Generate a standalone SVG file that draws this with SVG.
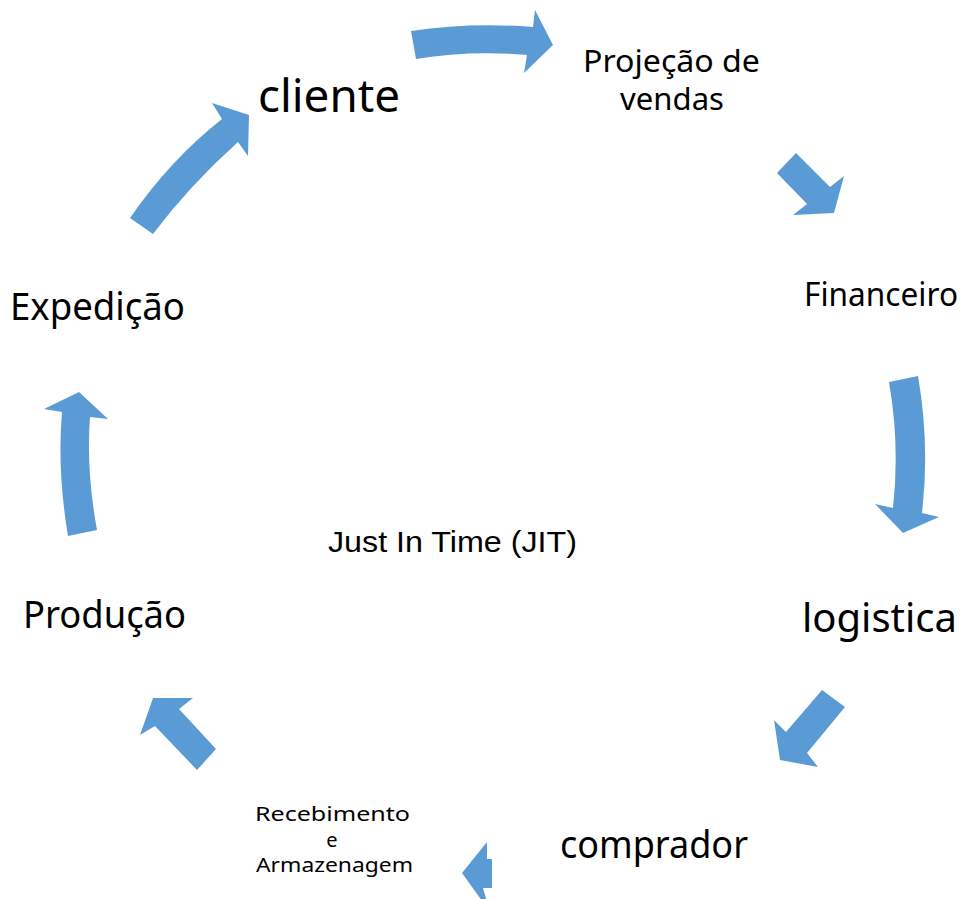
<svg xmlns="http://www.w3.org/2000/svg" width="963" height="899" viewBox="0 0 963 899">
  <style>
    .arrow { fill: #5B9BD5; }
    .lbl { font-family: "Noto Sans", "Open Sans", sans-serif; fill: #000; }
    .arial { font-family: "Liberation Sans", Arial, sans-serif; fill: #000; }
  </style>
  <rect width="963" height="899" fill="#fff"/>

  <!-- cycle arrows -->
  <g id="connectors">
    <path class="arrow" d="M411,31 Q470,22 533,27 L535,10 L553,45 L524,73 L527,55 Q470,50 416,59 Z"/>
    <path class="arrow" d="M796,153 L830,187 L844,176 L834,213 L793,215 L807,204 L777,173 Z"/>
    <path class="arrow" d="M889,382 L918,376 Q930,445 922,513 L939,517 L903,533 L875,504 L893,508 Q900,445 889,382 Z"/>
    <path class="arrow" d="M822,690 L845,707 L807,753 L818,767 L780,760 L774,720 L786,732 Z"/>
    <path class="arrow" d="M487,842 L487,859 L492,859 L492,888 L483,888 L490,912 L462,873 Z"/>
    <path class="arrow" d="M216,749 L197,770 L155,726 L140,735 L153,698 L193,698 L179,709 Z"/>
    <path class="arrow" d="M68,536 L97,530 Q86,470 90,417 L108,419 L79,392 L44,409 L62,412 Q57,470 68,536 Z"/>
    <path class="arrow" d="M130,218 Q170,160 222,119 L212,103 L249,115 L248,156 L238,142 Q190,185 153,234 Z"/>
  </g>

  <g id="cliente">
    <text class="lbl" x="258" y="112" font-size="46" textLength="142" lengthAdjust="spacingAndGlyphs">cliente</text>
  </g>
  <g id="projecao">
    <text class="lbl" x="583" y="72" font-size="30" textLength="177" lengthAdjust="spacingAndGlyphs">Projeção de</text>
    <text class="lbl" x="620" y="110" font-size="30" textLength="104" lengthAdjust="spacingAndGlyphs">vendas</text>
  </g>
  <g id="financeiro">
    <text class="lbl" x="804" y="306" font-size="32" textLength="154" lengthAdjust="spacingAndGlyphs">Financeiro</text>
  </g>
  <g id="logistica">
    <text class="lbl" x="802" y="632" font-size="40" textLength="155" lengthAdjust="spacingAndGlyphs">logistica</text>
  </g>
  <g id="comprador">
    <text class="lbl" x="560" y="858" font-size="38" textLength="188" lengthAdjust="spacingAndGlyphs">comprador</text>
  </g>
  <g id="recebimento">
    <text class="lbl" x="255" y="821" font-size="20" textLength="155" lengthAdjust="spacingAndGlyphs">Recebimento</text>
    <text class="lbl" x="332" y="847" font-size="20" text-anchor="middle">e</text>
    <text class="lbl" x="256" y="872" font-size="20" textLength="157" lengthAdjust="spacingAndGlyphs">Armazenagem</text>
  </g>
  <g id="producao">
    <text class="lbl" x="23" y="628" font-size="38" textLength="163" lengthAdjust="spacingAndGlyphs">Produção</text>
  </g>
  <g id="expedicao">
    <text class="lbl" x="10" y="320" font-size="38" textLength="175" lengthAdjust="spacingAndGlyphs">Expedição</text>
  </g>
  <g id="jit">
    <text class="arial" x="328" y="552" font-size="29" textLength="249" lengthAdjust="spacingAndGlyphs">Just In Time (JIT)</text>
  </g>
</svg>
